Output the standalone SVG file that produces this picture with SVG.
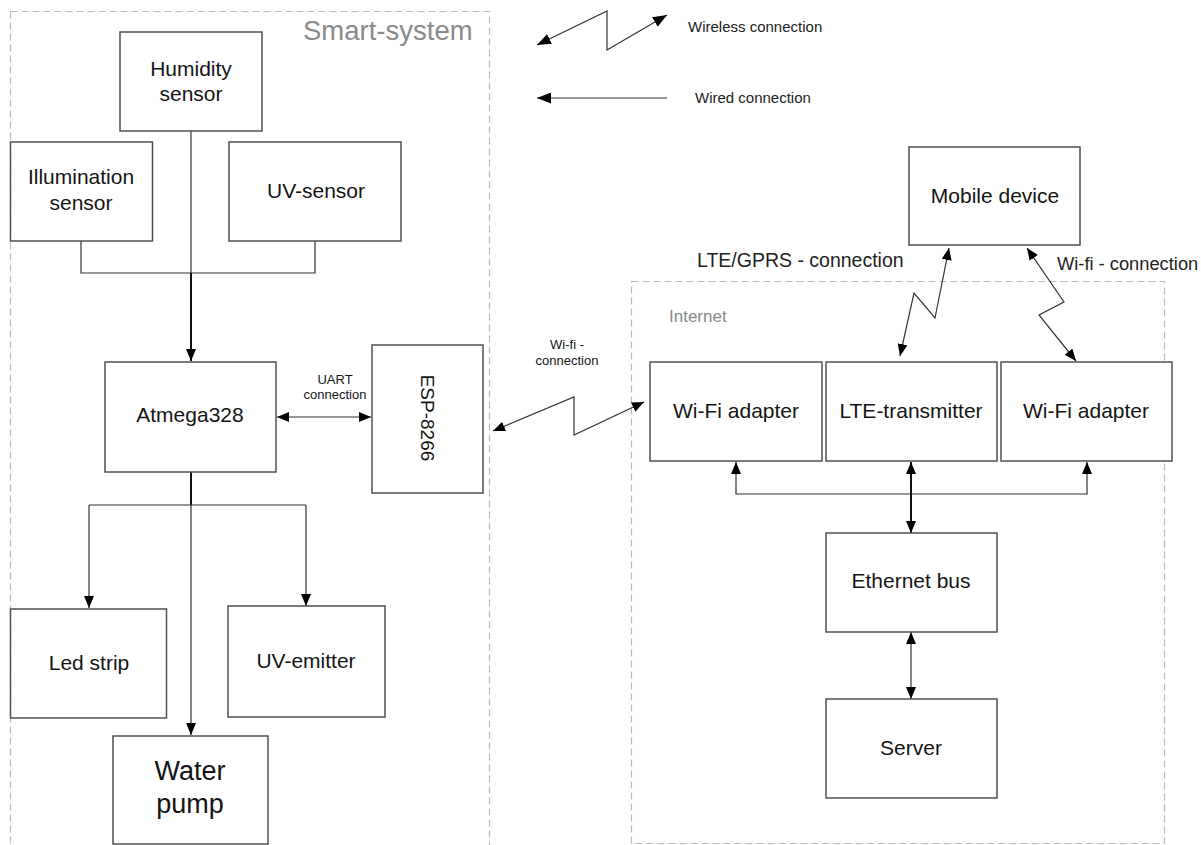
<svg xmlns="http://www.w3.org/2000/svg" width="1201" height="845" viewBox="0 0 1201 845">
  <style>
    .box { fill: #ffffff; stroke: #505050; stroke-width: 1.5; }
    .zone { fill: none; stroke: #b8bcc0; stroke-width: 1.2; stroke-dasharray: 7 4; }
    .lbl { font-family: "Liberation Sans", Arial, sans-serif; fill: #141414; text-anchor: middle; }
    .big { font-size: 21px; }
    .note { font-family: "Liberation Sans", Arial, sans-serif; fill: #222222; }
    .zt { font-family: "Liberation Sans", Arial, sans-serif; fill: #8a8a8a; }
    .wire { fill: none; stroke: #333333; stroke-width: 1.2; }
    .bold { fill: none; stroke: #111111; stroke-width: 2; }
  </style>
  <defs>
    <marker id="ah" viewBox="0 0 12 10" refX="12" refY="5" markerWidth="12" markerHeight="10" markerUnits="userSpaceOnUse" orient="auto-start-reverse">
      <path d="M0,0 L12,5 L0,10 z" fill="#000000"/>
    </marker>
    <marker id="ahL" viewBox="0 0 14 11" refX="14" refY="5.5" markerWidth="14" markerHeight="11" markerUnits="userSpaceOnUse" orient="auto-start-reverse">
      <path d="M0,0 L14,5.5 L0,11 z" fill="#000000"/>
    </marker>
  </defs>

  <!-- zones -->
  <g id="zone-smart-system">
    <rect class="zone" x="10.5" y="11.5" width="479" height="850"/>
    <text class="zt" x="303" y="40" font-size="27.5">Smart-system</text>
  </g>
  <g id="zone-internet">
    <rect class="zone" x="631.5" y="281.5" width="533" height="562"/>
    <text class="zt" x="669" y="322" font-size="17">Internet</text>
  </g>

  <!-- legend -->
  <g id="legend">
    <path class="wire" d="M537,45 L607,11 L607,50 L667,15" marker-start="url(#ahL)" marker-end="url(#ahL)"/>
    <text class="note" x="688" y="32" font-size="15">Wireless connection</text>
    <path class="wire" d="M667,98 H537" marker-end="url(#ahL)"/>
    <text class="note" x="695" y="103" font-size="15">Wired connection</text>
  </g>

  <!-- connectors -->
  <g id="connectors">
    <path class="wire" d="M191,131 V273"/>
    <path class="wire" d="M81,241 V273 H315 V241"/>
    <path class="bold" d="M191,273 V361" marker-end="url(#ah)"/>
    <path class="bold" d="M191,472 V505"/>
    <path class="wire" d="M89,505 H306"/>
    <path class="wire" d="M89,505 V608" marker-end="url(#ah)"/>
    <path class="wire" d="M306,505 V606" marker-end="url(#ah)"/>
    <path class="wire" d="M191,505 V735" marker-end="url(#ah)"/>
    <path class="wire" d="M277,417 H371" marker-start="url(#ah)" marker-end="url(#ah)"/>
    <text class="lbl" x="335" y="384" font-size="13">UART</text>
    <text class="lbl" x="335" y="399" font-size="13">connection</text>
    <path class="wire" d="M493,431 L574,397 L574,435 L644,402" marker-start="url(#ah)" marker-end="url(#ah)"/>
    <text class="lbl" x="567" y="349" font-size="13">Wi-fi -</text>
    <text class="lbl" x="567" y="365" font-size="13">connection</text>
    <path class="wire" d="M949,248 L935,318 L914,293 L900,356" marker-start="url(#ah)" marker-end="url(#ah)"/>
    <text class="note" x="697" y="267" font-size="19.5">LTE/GPRS - connection</text>
    <path class="wire" d="M1027,248 L1064,302 L1039,315 L1076,361" marker-start="url(#ah)" marker-end="url(#ah)"/>
    <text class="note" x="1057" y="270" font-size="18.3">Wi-fi - connection</text>
    <path class="wire" d="M736,462 V494 H1087 V462" marker-start="url(#ah)" marker-end="url(#ah)"/>
    <path class="bold" d="M911,462 V533" marker-start="url(#ah)" marker-end="url(#ah)"/>
    <path class="wire" d="M911,632 V699" marker-start="url(#ah)" marker-end="url(#ah)"/>
  </g>

  <!-- nodes -->
  <g id="humidity-sensor">
    <rect class="box" x="120" y="32" width="142" height="99"/>
    <text class="lbl big" x="191" y="76">Humidity</text>
    <text class="lbl big" x="191" y="101">sensor</text>
  </g>
  <g id="illumination-sensor">
    <rect class="box" x="10.5" y="142" width="142" height="99"/>
    <text class="lbl big" x="81" y="184">Illumination</text>
    <text class="lbl big" x="81" y="210">sensor</text>
  </g>
  <g id="uv-sensor">
    <rect class="box" x="229" y="142" width="172" height="99"/>
    <text class="lbl big" x="316" y="198">UV-sensor</text>
  </g>
  <g id="atmega328">
    <rect class="box" x="105" y="362" width="171" height="110"/>
    <text class="lbl big" x="190" y="422">Atmega328</text>
  </g>
  <g id="esp-8266">
    <rect class="box" x="372" y="345" width="111" height="148"/>
    <text class="lbl" x="0" y="0" font-size="19" transform="translate(421,418) rotate(90)">ESP-8266</text>
  </g>
  <g id="led-strip">
    <rect class="box" x="10.5" y="609" width="156" height="109"/>
    <text class="lbl big" x="89" y="670">Led strip</text>
  </g>
  <g id="uv-emitter">
    <rect class="box" x="228" y="606" width="157" height="111"/>
    <text class="lbl big" x="306" y="668">UV-emitter</text>
  </g>
  <g id="water-pump">
    <rect class="box" x="113" y="736" width="155" height="108"/>
    <text class="lbl" x="190" y="780" font-size="27">Water</text>
    <text class="lbl" x="190" y="813" font-size="27">pump</text>
  </g>
  <g id="mobile-device">
    <rect class="box" x="909" y="147" width="171" height="98"/>
    <text class="lbl big" x="995" y="203">Mobile device</text>
  </g>
  <g id="wifi-adapter-1">
    <rect class="box" x="650" y="362" width="172" height="99"/>
    <text class="lbl big" x="736" y="418">Wi-Fi adapter</text>
  </g>
  <g id="lte-transmitter">
    <rect class="box" x="826" y="362" width="171" height="99"/>
    <text class="lbl big" x="911" y="418">LTE-transmitter</text>
  </g>
  <g id="wifi-adapter-2">
    <rect class="box" x="1001" y="362" width="171" height="99"/>
    <text class="lbl big" x="1086" y="418">Wi-Fi adapter</text>
  </g>
  <g id="ethernet-bus">
    <rect class="box" x="826" y="533" width="171" height="99"/>
    <text class="lbl big" x="911" y="588">Ethernet bus</text>
  </g>
  <g id="server">
    <rect class="box" x="826" y="699" width="171" height="99"/>
    <text class="lbl big" x="911" y="755">Server</text>
  </g>
</svg>
